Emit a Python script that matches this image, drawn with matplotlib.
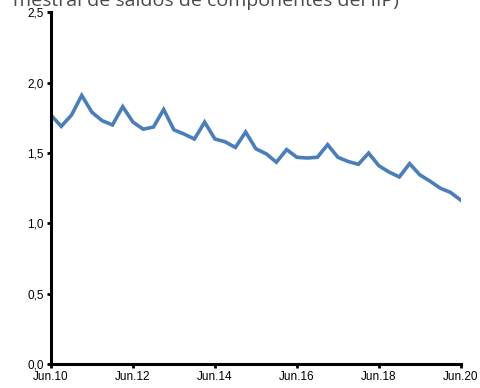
import matplotlib
matplotlib.use("Agg")
import matplotlib.pyplot as plt
from matplotlib.ticker import FuncFormatter, FixedLocator

values = [1.77, 1.69, 1.77, 1.91, 1.79, 1.73, 1.70, 1.83, 1.72, 1.67,
          1.685, 1.81, 1.665, 1.635, 1.60, 1.72, 1.60, 1.58, 1.54, 1.65,
          1.53, 1.495, 1.435, 1.525, 1.47, 1.465, 1.47, 1.56, 1.47, 1.44,
          1.42, 1.50, 1.41, 1.365, 1.33, 1.425, 1.345, 1.30, 1.25, 1.22,
          1.165]
tick_labels = ["Jun.10", "Jun.12", "Jun.14", "Jun.16", "Jun.18", "Jun.20"]
title_fragment = "mestral de saldos de componentes del IIP)"

plt.rcParams['font.family'] = ['Liberation Sans', 'DejaVu Sans']

fig = plt.figure(figsize=(4.81, 3.88), dpi=100)
ax = fig.add_axes([0.106, 0.0619, 0.852, 0.906])

x = list(range(len(values)))
ax.plot(x, values, color="#4A7EBB", linewidth=2.6, solid_joinstyle='miter')

ax.set_xlim(0, len(values) - 1)
ax.set_ylim(0, 2.5)
ax.xaxis.set_major_locator(FixedLocator([0, 8, 16, 24, 32, 40]))
ax.set_xticklabels(tick_labels)
ax.set_yticks([0, 0.5, 1.0, 1.5, 2.0, 2.5])
ax.yaxis.set_major_formatter(FuncFormatter(lambda v, p: f"{v:.1f}".replace(".", ",")))

for s in ["top", "right"]:
    ax.spines[s].set_visible(False)
for s in ["left", "bottom"]:
    ax.spines[s].set_linewidth(2.2)
    ax.spines[s].set_color("black")
ax.tick_params(axis="both", direction="out", length=3, width=2, labelsize=8.5, colors="black", pad=2)

fig.text(0.027, 0.985, title_fragment, fontsize=14, color="#4a4a4a",
         family=["Open Sans", "DejaVu Sans"], ha="left", va="baseline")

fig.savefig("out.png", dpi=100)
